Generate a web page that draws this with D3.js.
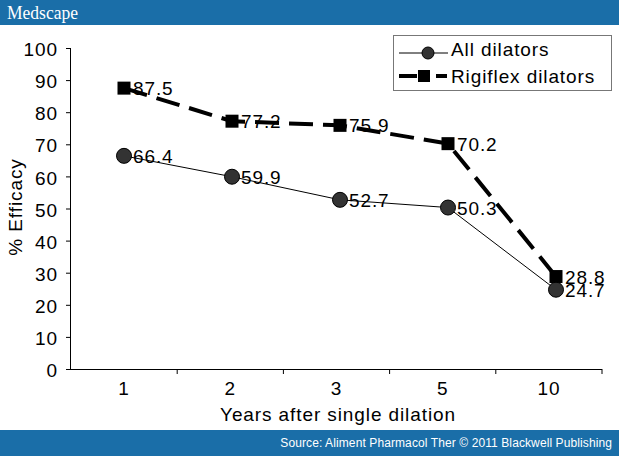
<!DOCTYPE html>
<html><head><meta charset="utf-8">
<script src="https://cdn.jsdelivr.net/npm/d3@7"></script>
<style>body{margin:0;background:#fff}svg{display:block}</style>
</head><body>
<script>
const categories = ["1","2","3","5","10"];
const allDilators = [66.4, 59.9, 52.7, 50.3, 24.7];
const rigiflexDilators = [87.5, 77.2, 75.9, 70.2, 28.8];
const yTicks = [0,10,20,30,40,50,60,70,80,90,100];
const seriesNames = ["All dilators", "Rigiflex dilators"];

const W = 619, H = 456;
const blue = "#1a6ea8";
const font = "Liberation Sans, Arial, sans-serif";
const FS = 19, LS = 0.9;
const svg = d3.select("body").append("svg").attr("width", W).attr("height", H);

// header / footer
svg.append("rect").attr("x",0).attr("y",0).attr("width",W).attr("height",25).attr("fill",blue);
svg.append("text").attr("x",7).attr("y",19).attr("fill","#fff")
  .attr("font-family","Liberation Serif, Times New Roman, serif").attr("font-size",18)
  .attr("textLength",71).attr("lengthAdjust","spacingAndGlyphs").text("Medscape");
svg.append("rect").attr("x",0).attr("y",430).attr("width",W).attr("height",26).attr("fill",blue);
svg.append("text").attr("x",612).attr("y",447).attr("fill","#fff").attr("text-anchor","end")
  .attr("font-family",font).attr("font-size",12).attr("letter-spacing",0.1)
  .text("Source: Aliment Pharmacol Ther © 2011 Blackwell Publishing");

const y = d3.scaleLinear().domain([0,100]).range([369,48]);
const xBand = d3.scaleBand().domain(categories).range([71,602]);
const xPt = d3.scalePoint().domain(categories).range([124,556]);

// y axis
const yAxis = svg.append("g").attr("transform","translate(71,0)")
  .call(d3.axisLeft(y).tickValues(yTicks).tickSize(5).tickPadding(8));
yAxis.select(".domain").attr("stroke","#000").attr("d","M-0.5,48V369.5");
yAxis.selectAll("text").attr("font-family",font).attr("font-size",FS).attr("letter-spacing",LS)
  .attr("fill","#000").attr("dy","0.4em");

// x axis
const xAxis = svg.append("g").attr("transform","translate(0,369)")
  .call(d3.axisBottom(xBand).tickSize(0).tickPadding(13));
xAxis.select(".domain").attr("stroke","#000").attr("d","M71,0.5H602");
xAxis.selectAll("text").attr("font-family",font).attr("font-size",FS).attr("letter-spacing",LS).attr("fill","#000");
xAxis.selectAll(".bnd").data(categories).enter().append("line")
  .attr("x1",d=>xBand(d)+xBand.bandwidth()).attr("x2",d=>xBand(d)+xBand.bandwidth())
  .attr("y1",0).attr("y2",5).attr("stroke","#000");

// axis titles
svg.append("text").attr("x",338).attr("y",421).attr("text-anchor","middle")
  .attr("font-family",font).attr("font-size",FS).attr("letter-spacing",LS).text("Years after single dilation");
svg.append("text").attr("transform","translate(22,207) rotate(-90)").attr("text-anchor","middle")
  .attr("font-family",font).attr("font-size",FS).attr("letter-spacing",LS).text("% Efficacy");

const line = d3.line().x((d,i)=>xPt(categories[i])).y(d=>y(d));

// Rigiflex dashed
svg.append("path").attr("d",line(rigiflexDilators)).attr("fill","none")
  .attr("stroke","#000").attr("stroke-width",4).attr("stroke-dasharray","24,10");
// All dilators solid
svg.append("path").attr("d",line(allDilators)).attr("fill","none")
  .attr("stroke","#000").attr("stroke-width",1);

svg.selectAll(".sq").data(rigiflexDilators).enter().append("rect")
  .attr("x",(d,i)=>xPt(categories[i])-6.5).attr("y",d=>y(d)-6.5)
  .attr("width",13).attr("height",13).attr("fill","#000");
svg.selectAll(".ci").data(allDilators).enter().append("circle")
  .attr("cx",(d,i)=>xPt(categories[i])).attr("cy",d=>y(d)).attr("r",7.5)
  .attr("fill","#333").attr("stroke","#000").attr("stroke-width",1);

function labels(arr){
  svg.selectAll(null).data(arr).enter().append("text")
    .attr("x",(d,i)=>xPt(categories[i])+9).attr("y",d=>y(d)+7)
    .attr("font-family",font).attr("font-size",FS).attr("letter-spacing",LS).attr("fill","#000")
    .text(d=>d.toFixed(1));
}
labels(rigiflexDilators);
labels(allDilators);

// legend
const lg = svg.append("g");
lg.append("rect").attr("x",393.5).attr("y",35.5).attr("width",218).attr("height",55)
  .attr("fill","#fff").attr("stroke","#777").attr("stroke-width",1);
lg.append("line").attr("x1",399).attr("x2",448).attr("y1",53).attr("y2",53).attr("stroke","#000");
lg.append("circle").attr("cx",428).attr("cy",53).attr("r",6).attr("fill","#333").attr("stroke","#000");
lg.append("text").attr("x",451).attr("y",56).attr("font-family",font).attr("font-size",FS)
  .attr("letter-spacing",LS).text(seriesNames[0]);
lg.append("line").attr("x1",399).attr("x2",448).attr("y1",76).attr("y2",76).attr("stroke","#000")
  .attr("stroke-width",4).attr("stroke-dasharray","18,19,11");
lg.append("rect").attr("x",418).attr("y",70).attr("width",12).attr("height",12).attr("fill","#000");
lg.append("text").attr("x",451).attr("y",83).attr("font-family",font).attr("font-size",FS)
  .attr("letter-spacing",LS).text(seriesNames[1]);
</script>
</body></html>
